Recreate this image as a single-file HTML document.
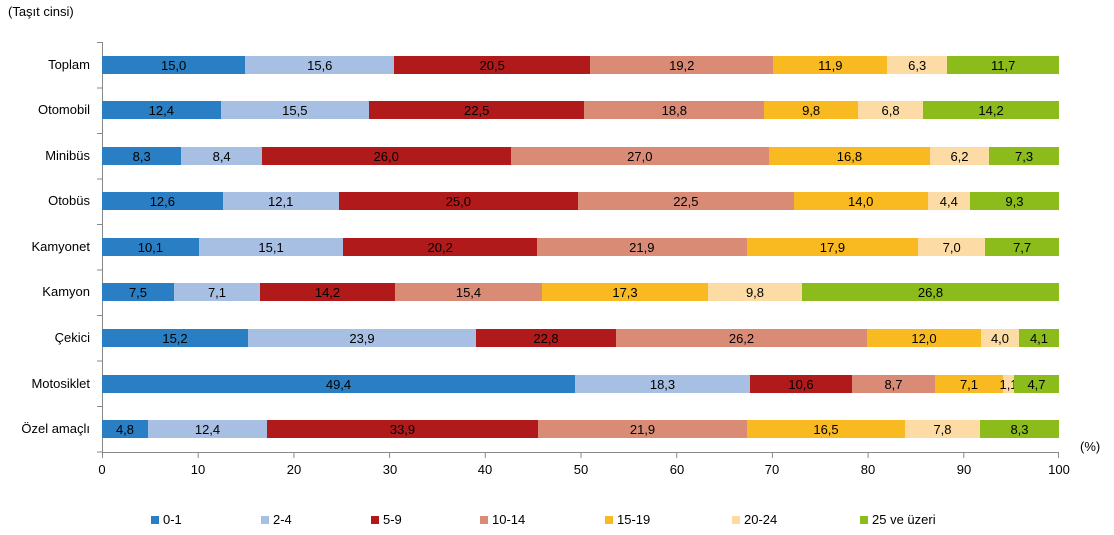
<!DOCTYPE html>
<html><head><meta charset="utf-8"><style>
body{margin:0;width:1114px;height:535px;background:#fff;font-family:"Liberation Sans",sans-serif;font-size:13px;color:#000;position:relative;overflow:hidden}
.a{position:absolute}
.row{position:absolute;left:102px;width:957px;height:18px;display:flex}
.row div{display:flex;justify-content:center;align-items:center;white-space:nowrap;min-width:0;overflow:visible;font-size:13px}
.cat{position:absolute;right:1024px;text-align:right;white-space:nowrap;line-height:18px}
.c1{background:#2a7fc4}.c2{background:#a6bfe3}.c3{background:#b01a1a}.c4{background:#d98b76}.c5{background:#f9b921}.c6{background:#fcdca4}.c7{background:#8cbc1c}
.xt{position:absolute;top:462px;width:40px;margin-left:-20px;text-align:center}
.lg{position:absolute;top:512px;display:flex;align-items:center}
.lg span{display:inline-block;width:8px;height:8px;margin-right:4px}
</style></head><body>
<div class="a" style="left:8px;top:4px">(Taşıt cinsi)</div>
<svg class="a" style="left:0;top:0" width="1114" height="535">
<g stroke="#888" stroke-width="1">
<line x1="102.5" y1="42" x2="102.5" y2="453"/>
<line x1="102" y1="452.5" x2="1059" y2="452.5"/>
<line x1="97" y1="42.5" x2="102" y2="42.5"/><line x1="97" y1="88" x2="102" y2="88"/><line x1="97" y1="133.5" x2="102" y2="133.5"/><line x1="97" y1="179" x2="102" y2="179"/><line x1="97" y1="224.5" x2="102" y2="224.5"/><line x1="97" y1="270" x2="102" y2="270"/><line x1="97" y1="315.5" x2="102" y2="315.5"/><line x1="97" y1="361" x2="102" y2="361"/><line x1="97" y1="406.5" x2="102" y2="406.5"/><line x1="97" y1="452" x2="102" y2="452"/>
<line x1="102.5" y1="452" x2="102.5" y2="458"/><line x1="198.2" y1="452" x2="198.2" y2="458"/><line x1="293.9" y1="452" x2="293.9" y2="458"/><line x1="389.6" y1="452" x2="389.6" y2="458"/><line x1="485.3" y1="452" x2="485.3" y2="458"/><line x1="581" y1="452" x2="581" y2="458"/><line x1="676.7" y1="452" x2="676.7" y2="458"/><line x1="772.4" y1="452" x2="772.4" y2="458"/><line x1="868.1" y1="452" x2="868.1" y2="458"/><line x1="963.8" y1="452" x2="963.8" y2="458"/><line x1="1058.5" y1="452" x2="1058.5" y2="458"/>
</g></svg>
<div class="xt" style="left:102px">0</div><div class="xt" style="left:198px">10</div><div class="xt" style="left:294px">20</div><div class="xt" style="left:390px">30</div><div class="xt" style="left:485px">40</div><div class="xt" style="left:581px">50</div><div class="xt" style="left:677px">60</div><div class="xt" style="left:772px">70</div><div class="xt" style="left:868px">80</div><div class="xt" style="left:964px">90</div><div class="xt" style="left:1059px">100</div>
<div class="a" style="left:1080px;top:439px">(%)</div>

<div class="cat" style="top:56px">Toplam</div>
<div class="row" style="top:56px"><div class="c1" style="flex:15.0">15,0</div><div class="c2" style="flex:15.6">15,6</div><div class="c3" style="flex:20.5">20,5</div><div class="c4" style="flex:19.2">19,2</div><div class="c5" style="flex:11.9">11,9</div><div class="c6" style="flex:6.3">6,3</div><div class="c7" style="flex:11.7">11,7</div></div>
<div class="cat" style="top:101px">Otomobil</div>
<div class="row" style="top:101px"><div class="c1" style="flex:12.4">12,4</div><div class="c2" style="flex:15.5">15,5</div><div class="c3" style="flex:22.5">22,5</div><div class="c4" style="flex:18.8">18,8</div><div class="c5" style="flex:9.8">9,8</div><div class="c6" style="flex:6.8">6,8</div><div class="c7" style="flex:14.2">14,2</div></div>
<div class="cat" style="top:147px">Minibüs</div>
<div class="row" style="top:147px"><div class="c1" style="flex:8.3">8,3</div><div class="c2" style="flex:8.4">8,4</div><div class="c3" style="flex:26.0">26,0</div><div class="c4" style="flex:27.0">27,0</div><div class="c5" style="flex:16.8">16,8</div><div class="c6" style="flex:6.2">6,2</div><div class="c7" style="flex:7.3">7,3</div></div>
<div class="cat" style="top:192px">Otobüs</div>
<div class="row" style="top:192px"><div class="c1" style="flex:12.6">12,6</div><div class="c2" style="flex:12.1">12,1</div><div class="c3" style="flex:25.0">25,0</div><div class="c4" style="flex:22.5">22,5</div><div class="c5" style="flex:14.0">14,0</div><div class="c6" style="flex:4.4">4,4</div><div class="c7" style="flex:9.3">9,3</div></div>
<div class="cat" style="top:238px">Kamyonet</div>
<div class="row" style="top:238px"><div class="c1" style="flex:10.1">10,1</div><div class="c2" style="flex:15.1">15,1</div><div class="c3" style="flex:20.2">20,2</div><div class="c4" style="flex:21.9">21,9</div><div class="c5" style="flex:17.9">17,9</div><div class="c6" style="flex:7.0">7,0</div><div class="c7" style="flex:7.7">7,7</div></div>
<div class="cat" style="top:283px">Kamyon</div>
<div class="row" style="top:283px"><div class="c1" style="flex:72">7,5</div><div class="c2" style="flex:86">7,1</div><div class="c3" style="flex:135">14,2</div><div class="c4" style="flex:147">15,4</div><div class="c5" style="flex:166">17,3</div><div class="c6" style="flex:94">9,8</div><div class="c7" style="flex:257">26,8</div></div>
<div class="cat" style="top:329px">Çekici</div>
<div class="row" style="top:329px"><div class="c1" style="flex:146">15,2</div><div class="c2" style="flex:228">23,9</div><div class="c3" style="flex:140">22,8</div><div class="c4" style="flex:251">26,2</div><div class="c5" style="flex:114">12,0</div><div class="c6" style="flex:38">4,0</div><div class="c7" style="flex:40">4,1</div></div>
<div class="cat" style="top:375px">Motosiklet</div>
<div class="row" style="top:375px"><div class="c1" style="flex:473">49,4</div><div class="c2" style="flex:175">18,3</div><div class="c3" style="flex:102">10,6</div><div class="c4" style="flex:83">8,7</div><div class="c5" style="flex:68">7,1</div><div class="c6" style="flex:11">1,1</div><div class="c7" style="flex:45">4,7</div></div>
<div class="cat" style="top:420px">Özel amaçlı</div>
<div class="row" style="top:420px"><div class="c1" style="flex:46">4,8</div><div class="c2" style="flex:119">12,4</div><div class="c3" style="flex:271">33,9</div><div class="c4" style="flex:209">21,9</div><div class="c5" style="flex:158">16,5</div><div class="c6" style="flex:75">7,8</div><div class="c7" style="flex:79">8,3</div></div>

<div class="lg" style="left:151px"><span class="c1"></span>0-1</div>
<div class="lg" style="left:261px"><span class="c2"></span>2-4</div>
<div class="lg" style="left:371px"><span class="c3"></span>5-9</div>
<div class="lg" style="left:480px"><span class="c4"></span>10-14</div>
<div class="lg" style="left:605px"><span class="c5"></span>15-19</div>
<div class="lg" style="left:732px"><span class="c6"></span>20-24</div>
<div class="lg" style="left:860px"><span class="c7"></span>25 ve üzeri</div>
</body></html>
